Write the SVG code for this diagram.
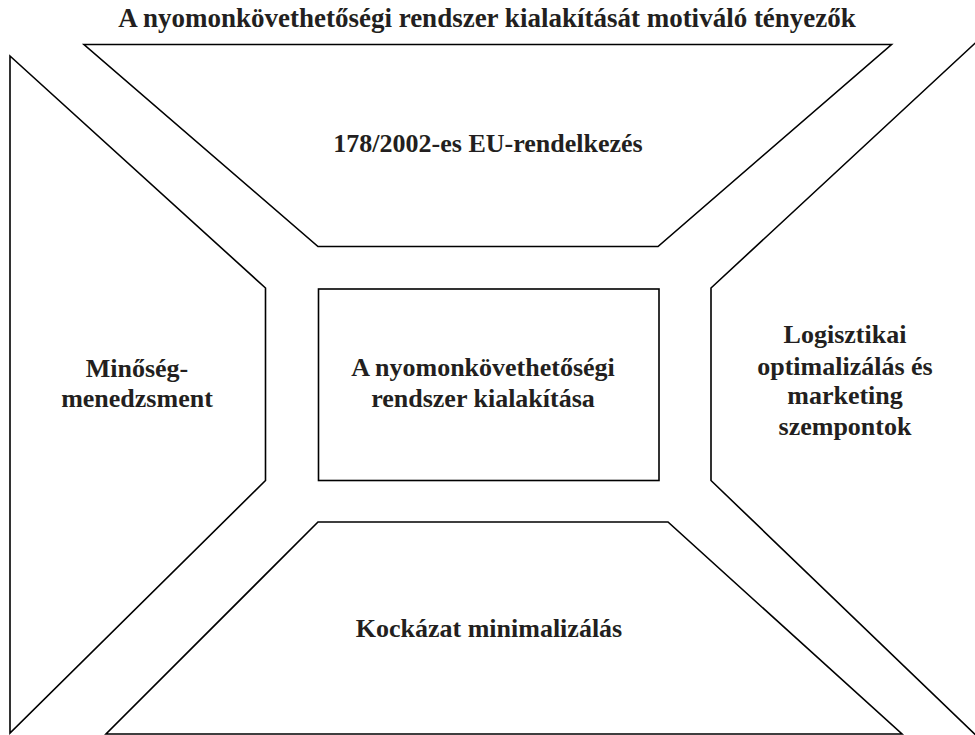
<svg xmlns="http://www.w3.org/2000/svg" width="975" height="735" viewBox="0 0 975 735">
  <style>
    .shape { fill: #ffffff; stroke: #000000; stroke-width: 1.6; stroke-linejoin: miter; }
    .label { font-family: "Liberation Serif", "Times New Roman", serif; font-weight: bold; font-size: 26px; fill: #231f20; text-anchor: middle; }
    .title { font-size: 27px; }
  </style>
  <rect width="975" height="735" fill="#ffffff"/>

  <text class="label title" x="487" y="27">A nyomonkövethetőségi rendszer kialakítását motiváló tényezők</text>

  <g id="top-factor">
    <polygon class="shape" points="84,44.5 891.5,44.5 658,246.5 318,246.5"/>
    <text class="label" x="488" y="152">178/2002-es EU-rendelkezés</text>
  </g>

  <g id="left-factor">
    <polygon class="shape" points="10,56 265.5,288 265.5,480.5 10,733"/>
    <text class="label" x="137" y="377">Minőség-</text>
    <text class="label" x="137" y="407">menedzsment</text>
  </g>

  <g id="right-factor">
    <polygon class="shape" points="985,34 711,288 711,480.5 985,744"/>
    <text class="label" x="845" y="343">Logisztikai</text>
    <text class="label" x="845" y="375">optimalizálás és</text>
    <text class="label" x="845" y="404">marketing</text>
    <text class="label" x="845" y="435">szempontok</text>
  </g>

  <g id="bottom-factor">
    <polygon class="shape" points="318,522 668,522 902,734 106,734"/>
    <text class="label" x="489" y="637">Kockázat minimalizálás</text>
  </g>

  <g id="center">
    <rect class="shape" x="318.5" y="289" width="340.5" height="191.5"/>
    <text class="label" x="483" y="376">A nyomonkövethetőségi</text>
    <text class="label" x="483" y="407">rendszer kialakítása</text>
  </g>

  <g id="connectors"/>
</svg>
